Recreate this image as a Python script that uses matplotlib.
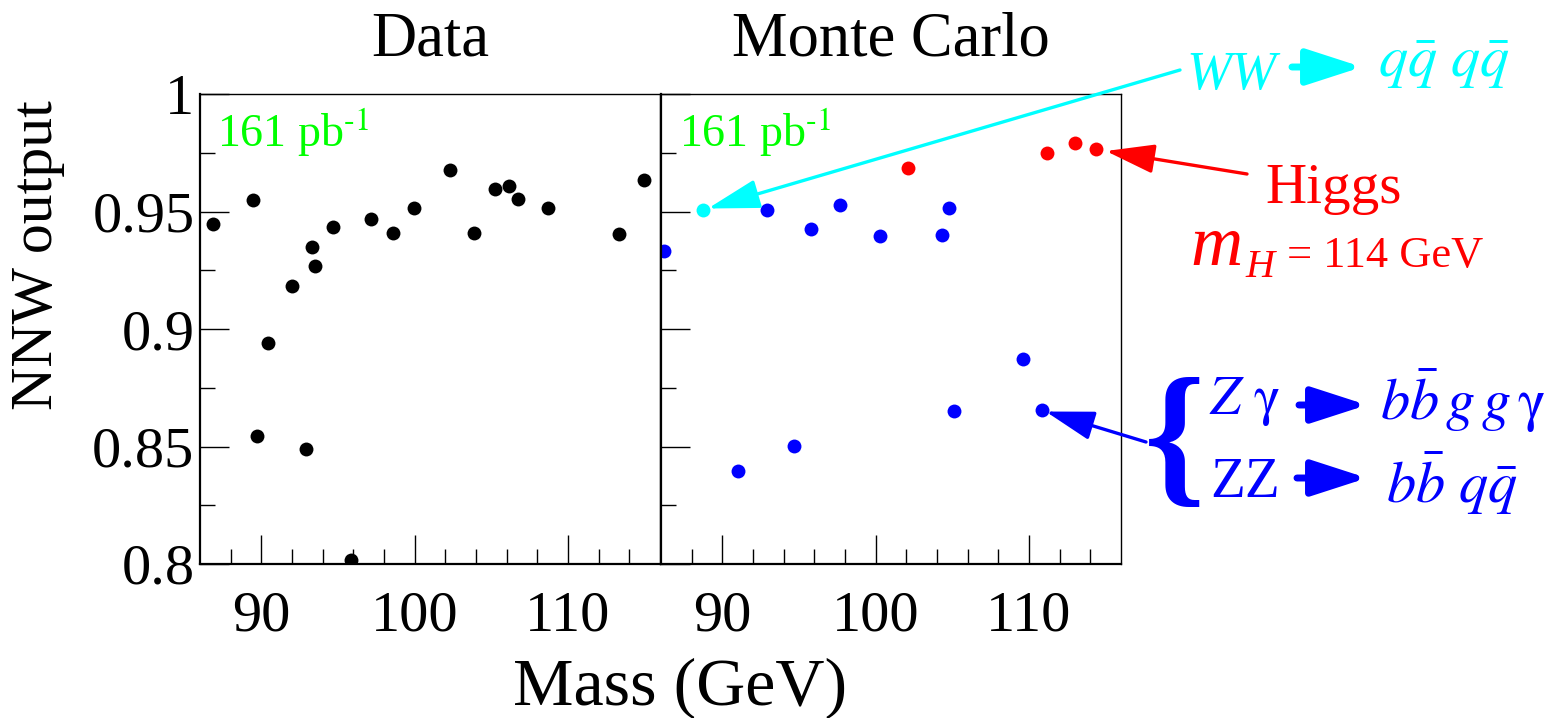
import matplotlib.pyplot as plt
import numpy as np
from matplotlib.patches import FancyArrowPatch

plt.rcParams['font.family'] = ['Liberation Serif', 'DejaVu Serif']
plt.rcParams['mathtext.fontset'] = 'stix'

# data panel: reconstructed mass vs neural net output
data_mass = [86.88, 89.48, 89.74, 90.46, 92.02, 92.89, 93.28, 93.51, 94.66, 95.88, 97.16,
             98.59, 99.98, 102.30, 103.86, 105.21, 106.12, 106.75, 108.72, 113.34, 114.96]
data_nnw = [0.9445, 0.9548, 0.8546, 0.8940, 0.9182, 0.8489, 0.9351, 0.9270, 0.9432, 0.8015, 0.9470,
            0.9409, 0.9517, 0.9675, 0.9409, 0.9594, 0.9609, 0.9555, 0.9517, 0.9406, 0.9636]

# Monte Carlo panel
zz_mass = [86.21, 91.03, 92.94, 94.67, 95.80, 97.67, 100.27, 104.33, 104.78, 105.13, 109.64, 110.83]
zz_nnw = [0.9332, 0.8397, 0.9506, 0.8503, 0.9425, 0.9526, 0.9395, 0.9398, 0.9514, 0.8651, 0.8872, 0.8654]
ww_mass = [88.71]
ww_nnw = [0.9506]
higgs_mass = [102.14, 111.16, 113.00, 114.39]
higgs_nnw = [0.9687, 0.9750, 0.9792, 0.9764]

W, H = 1565, 718
fig = plt.figure(figsize=(W / 100, H / 100), dpi=100)


def fp(x, y):
    # pixel position (from top-left) -> figure fraction
    return (x / W, 1 - y / H)


def box(x0, y0, x1, y1):
    return [x0 / W, 1 - y1 / H, (x1 - x0) / W, (y1 - y0) / H]


ax1 = fig.add_axes(box(200, 94, 660, 564))
ax2 = fig.add_axes(box(661, 94, 1121, 564))

for ax in (ax1, ax2):
    ax.set_xlim(86, 116)
    ax.set_ylim(0.8, 1.0)
    ax.set_xticks([90, 100, 110])
    ax.set_xticks(np.arange(88, 116, 2), minor=True)
    ax.set_yticks([0.8, 0.85, 0.9, 0.95, 1.0])
    ax.set_yticks([0.825, 0.875, 0.925, 0.975], minor=True)
    ax.tick_params(which='both', direction='in', top=False, right=False, width=1)
    ax.tick_params(which='major', length=21)
    ax.tick_params(which='minor', length=10.5)
    ax.tick_params(axis='x', which='major', labelsize=42, pad=19)
    ax.tick_params(axis='y', which='major', labelsize=42, pad=4)
    for s in ('left', 'bottom'):
        ax.spines[s].set_linewidth(1.6)
    for s in ('top', 'right'):
        ax.spines[s].set_linewidth(1.0)

ax1.set_yticklabels(['0.8', '0.85', '0.9', '0.95', '1'])
ax2.set_yticklabels([])

ax1.plot(data_mass, data_nnw, 'o', color='black', ms=10, mew=0)
ax2.plot(zz_mass, zz_nnw, 'o', color='blue', ms=10, mew=0)
ax2.plot(ww_mass, ww_nnw, 'o', color='cyan', ms=10, mew=0)
ax2.plot(higgs_mass, higgs_nnw, 'o', color='red', ms=10, mew=0)

# titles and axis labels
fig.text(*fp(430, 55), 'Data', ha='center', va='baseline', fontsize=45)
fig.text(*fp(891, 55), 'Monte Carlo', ha='center', va='baseline', fontsize=45)
fig.text(*fp(680, 705), 'Mass (GeV)', ha='center', va='baseline', fontsize=49)
fig.text(*fp(38, 255), 'NNW output', ha='center', va='center', rotation=90, fontsize=43)

for x0 in (217, 679):
    fig.text(*fp(x0, 146), r'161 pb$^{\text{-1}}$', color='#00ff00', va='baseline', fontsize=33)


def text_arrow(x0, x1, y, color):
    fig.add_artist(FancyArrowPatch(fp(x0, y), fp(x1, y), transform=fig.transFigure,
                                   arrowstyle='-|>,head_length=34,head_width=11',
                                   mutation_scale=1, lw=5, color=color,
                                   shrinkA=0, shrinkB=0))


# WW annotation
fig.text(*fp(1186, 89), 'WW', style='italic', color='cyan', va='baseline', fontsize=39)
text_arrow(1292, 1362, 67, 'cyan')
fig.text(*fp(1378, 77), r'$q\bar{q}\ q\bar{q}$', color='cyan', va='baseline', fontsize=42)
ax2.annotate('', xy=(ww_mass[0], ww_nnw[0]), xycoords='data',
             xytext=fp(1180, 70), textcoords='figure fraction',
             arrowprops=dict(arrowstyle='-|>,head_length=32,head_width=9', mutation_scale=1,
                             lw=2.4, color='cyan', shrinkA=0, shrinkB=4))

# Higgs annotation
fig.text(*fp(1265, 203), 'Higgs', color='red', va='baseline', fontsize=41)
fig.text(*fp(1190, 265), 'm', style='italic', color='red', va='baseline', fontsize=52)
fig.text(*fp(1245, 277), 'H', style='italic', color='red', va='baseline', fontsize=29)
fig.text(*fp(1287, 267), '= 114 GeV', color='red', va='baseline', fontsize=32)
ax2.annotate('', xy=(higgs_mass[-1], higgs_nnw[-1]), xycoords='data',
             xytext=fp(1247, 174), textcoords='figure fraction',
             arrowprops=dict(arrowstyle='-|>,head_length=30,head_width=9', mutation_scale=1,
                             lw=2.4, color='red', shrinkA=0, shrinkB=7))

# Z gamma / ZZ annotation
fig.text(*fp(1144, 486), '{', color='blue', va='baseline', fontsize=112, fontweight='bold')
fig.text(*fp(1209, 414), r'$Z\ \mathrm{\gamma}$', color='blue', va='baseline', fontsize=40)
text_arrow(1299, 1367, 405, 'blue')
fig.text(*fp(1380, 420), r'$b\bar{b}\,g\,g\,\mathrm{\gamma}$', color='blue', va='baseline', fontsize=42)
fig.text(*fp(1210, 497), 'ZZ', color='blue', va='baseline', fontsize=41)
text_arrow(1297, 1367, 478, 'blue')
fig.text(*fp(1386, 503), r'$b\bar{b}\ q\bar{q}$', color='blue', va='baseline', fontsize=42)
ax2.annotate('', xy=(zz_mass[-1], zz_nnw[-1]), xycoords='data',
             xytext=fp(1146, 442), textcoords='figure fraction',
             arrowprops=dict(arrowstyle='-|>,head_length=30,head_width=9', mutation_scale=1,
                             lw=2.4, color='blue', shrinkA=0, shrinkB=3))

fig.savefig('out.png', dpi=100)
